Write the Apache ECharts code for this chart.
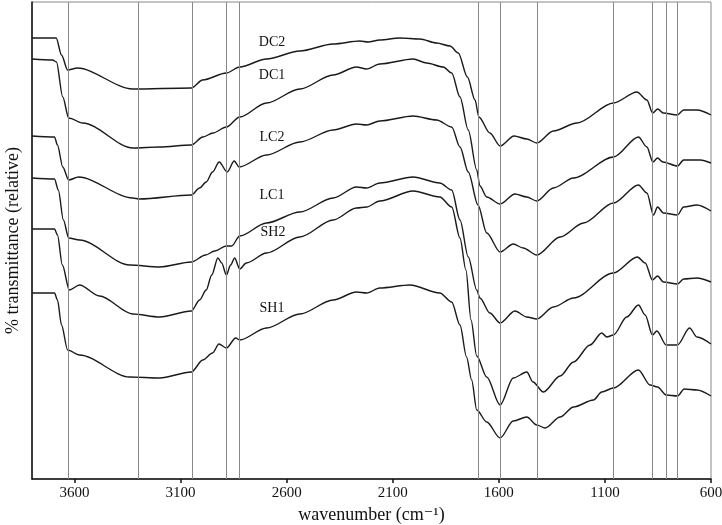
<!DOCTYPE html>
<html>
<head>
<meta charset="utf-8">
<script src="https://cdn.jsdelivr.net/npm/echarts@6/dist/echarts.min.js"></script>
<style>
  html, body { margin: 0; padding: 0; background: #fff; }
  #chart { width: 722px; height: 525px; }
</style>
</head>
<body>
<div id="chart"></div>
<script>
// spectra: [wavenumber (cm-1), relative transmittance]
const dc2 = [[3800,441],[3686,441],[3661,424],[3632,409],[3586,411],[3326,390],[3049,391],[2996,399],[2884,406],[2821,412],[2695,420],[2538,428],[2381,435],[2255,438],[2216,437],[2161,439],[2066,441],[1972,440],[1893,436],[1830,433],[1791,426],[1748,402],[1712,379],[1694,362],[1642,346],[1594,333],[1528,343],[1468,340],[1421,336],[1343,348],[1232,356],[1060,376],[949,387],[902,379],[875,366],[851,370],[825,366],[759,364],[729,369],[666,369],[600,364]];
const dc1 = [[3800,420],[3702,419],[3685,417],[3655,382],[3627,361],[3561,356],[3325,331],[3199,332],[3049,334],[2995,342],[2947,346],[2884,352],[2821,362],[2695,376],[2538,390],[2381,404],[2271,412],[2223,410],[2161,415],[2004,420],[1940,416],[1862,412],[1822,406],[1783,382],[1744,349],[1704,309],[1689,293],[1657,282],[1594,275],[1524,285],[1468,282],[1421,278],[1343,291],[1248,301],[1060,322],[942,342],[902,332],[874,317],[852,321],[827,317],[758,313],[729,319],[651,319],[600,316]];
const lc2 = [[3800,343],[3694,342],[3680,334],[3655,312],[3627,299],[3581,302],[3325,281],[3293,280],[3049,284],[3010,291],[2979,297],[2949,307],[2918,317],[2880,307],[2847,318],[2824,312],[2695,324],[2538,337],[2381,349],[2271,355],[2223,354],[2161,358],[2004,363],[1893,359],[1822,352],[1783,332],[1744,307],[1698,274],[1657,246],[1594,227],[1532,235],[1485,231],[1421,224],[1311,242],[1201,256],[1060,276],[942,294],[902,286],[871,264],[852,272],[824,266],[758,264],[729,272],[666,274],[600,268]];
const lc1 = [[3800,301],[3694,300],[3676,289],[3652,259],[3627,241],[3576,239],[3340,214],[3199,212],[3049,217],[2982,224],[2939,228],[2884,233],[2859,233],[2821,243],[2695,256],[2538,267],[2381,281],[2271,292],[2223,291],[2161,296],[2004,302],[1878,296],[1822,289],[1783,259],[1744,222],[1704,189],[1689,181],[1642,166],[1594,156],[1524,168],[1468,162],[1421,160],[1343,172],[1248,181],[1060,206],[947,222],[910,216],[876,199],[852,203],[824,197],[758,195],[729,200],[666,201],[600,197]];
const sh2 = [[3800,250],[3694,250],[3680,244],[3657,214],[3624,189],[3576,194],[3482,183],[3325,165],[3199,162],[3049,168],[3010,179],[2979,189],[2953,204],[2924,221],[2906,216],[2884,204],[2864,214],[2845,221],[2821,210],[2790,216],[2695,226],[2538,242],[2381,259],[2271,271],[2223,272],[2161,278],[2004,288],[1878,282],[1822,272],[1783,241],[1755,209],[1731,159],[1704,123],[1657,102],[1594,74],[1532,101],[1468,107],[1439,97],[1390,87],[1311,103],[1248,117],[1170,134],[1115,146],[1091,142],[1060,144],[997,162],[942,174],[910,164],[876,144],[855,148],[811,134],[758,134],[701,151],[666,142],[600,135]];
const sh1 = [[3800,186],[3694,186],[3680,179],[3661,154],[3632,129],[3576,124],[3340,102],[3199,101],[3049,107],[2995,119],[2949,126],[2919,135],[2884,131],[2840,141],[2821,139],[2695,151],[2538,165],[2381,179],[2271,187],[2223,186],[2161,191],[2019,194],[1878,186],[1822,177],[1783,154],[1752,122],[1728,99],[1704,69],[1657,57],[1594,41],[1532,58],[1468,62],[1421,54],[1382,51],[1311,62],[1248,72],[1154,79],[1115,87],[1060,91],[942,109],[887,94],[852,92],[811,84],[758,83],[726,90],[666,89],[600,83]];

const seriesNames = ['DC2', 'DC1', 'LC2', 'LC1', 'SH2', 'SH1'];
const seriesData = [dc2, dc1, lc2, lc1, sh2, sh1];
// marker lines drawn across the plot
const refLines = [3627, 3298, 3043, 2886, 2825, 1697, 1594, 1418, 1060, 878, 812, 759];

const serif = '"Liberation Serif", "DejaVu Serif", serif';
const chart = echarts.init(document.getElementById('chart'));

// label spots next to each curve (pixel positions in the frame)
const labelPos = [[272, 42], [272, 75], [272, 137], [272, 195], [273, 232], [272, 308]];

const series = seriesData.map((d, i) => ({
  name: seriesNames[i],
  type: 'line',
  data: d,
  showSymbol: false,
  smooth: 0.3,
  smoothMonotone: 'x',
  lineStyle: { color: '#1a1a1a', width: 1.4 },
  z: 3
}));

series.push({
  type: 'line',
  data: [],
  markLine: {
    silent: true,
    symbol: 'none',
    label: { show: false },
    lineStyle: { color: '#888', width: 1, type: 'solid' },
    data: refLines.map(v => ({ xAxis: v }))
  },
  z: 1
});

chart.setOption({
  animation: false,
  grid: {
    left: 32, right: 11, top: 2, bottom: 46,
    outerBoundsMode: 'none',
    containLabel: false,
    show: true, borderColor: '#888', borderWidth: 1
  },
  xAxis: {
    type: 'value',
    min: 600,
    max: 3800,
    interval: 500,
    inverse: true,
    name: 'wavenumber (cm\u207B\u00B9)',
    nameLocation: 'middle',
    nameGap: 24,
    nameTextStyle: { fontFamily: serif, fontSize: 18, color: '#111' },
    axisLine: { lineStyle: { color: '#111', width: 1.5 } },
    axisTick: { length: 4, lineStyle: { color: '#111', width: 1.5 } },
    axisLabel: {
      fontFamily: serif, fontSize: 15, color: '#111', margin: 7,
      showMaxLabel: false,
      formatter: v => (v === 3800 ? '' : String(v))
    },
    splitLine: { show: false }
  },
  yAxis: {
    type: 'value',
    min: 0,
    max: 477,
    name: '% transmittance (relative)',
    nameLocation: 'middle',
    nameGap: 10,
    nameTextStyle: { fontFamily: serif, fontSize: 18, color: '#111' },
    axisLine: { lineStyle: { color: '#111', width: 1.5 } },
    axisTick: { show: false },
    axisLabel: { show: false },
    splitLine: { show: false }
  },
  graphic: seriesNames.map((n, i) => ({
    type: 'text',
    x: labelPos[i][0],
    y: labelPos[i][1],
    style: { text: n, fontFamily: serif, fontSize: 14, fill: '#111', textAlign: 'center', textVerticalAlign: 'middle' },
    z: 10
  })),
  series: series
});
</script>
</body>
</html>
